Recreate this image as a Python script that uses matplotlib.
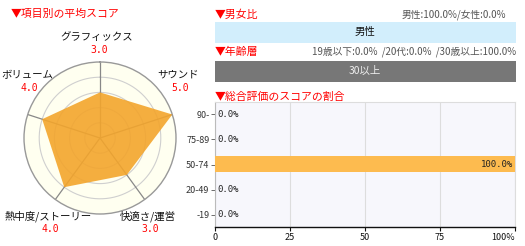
import numpy as np
import matplotlib
matplotlib.use("Agg")
import matplotlib.pyplot as plt
from matplotlib.patches import Rectangle

plt.rcParams["font.family"] = ["Noto Sans CJK JP", "DejaVu Sans"]
plt.rcParams["axes.unicode_minus"] = False

# radar data (clockwise from top)
radar_labels = ["グラフィックス", "サウンド", "快適さ/運営", "熱中度/ストーリー", "ボリューム"]
radar_values = [3.0, 5.0, 3.0, 4.0, 4.0]

# score distribution
score_cats = ["90-", "75-89", "50-74", "20-49", "-19"]
score_pct = [0.0, 0.0, 100.0, 0.0, 0.0]
score_ticks = [0, 25, 50, 75, 100]
score_ticklabels = ["0", "25", "50", "75", "100%"]

gender_text = "男性:100.0%/女性:0.0%"
age_text = "19歳以下:0.0%  /20代:0.0%  /30歳以上:100.0%"

W, H = 525, 246
fig = plt.figure(figsize=(W / 100, H / 100), dpi=100)
fig.patch.set_facecolor("white")


def px(x, y):
    return x / W, 1 - y / H


def box(l, t, r, b):
    return [l / W, 1 - b / H, (r - l) / W, (b - t) / H]


red = "#ff0000"
grey_txt = "#555555"

# ---- radar ----
cx, cy, R = 100, 138, 76
ax = fig.add_axes(box(cx - R, cy - R, cx + R, cy + R), projection="polar")
ax.set_theta_zero_location("N")
ax.set_theta_direction(-1)
ax.set_ylim(0, 5)
ax.set_facecolor("#fffff0")
ax.spines["polar"].set_color("#999999")
ax.spines["polar"].set_linewidth(1.0)
ax.set_xticks([])
ax.set_yticks([])
ax.grid(False)
th = np.linspace(0, 2 * np.pi, 200)
for r in [1, 2, 3, 4]:
    ax.plot(th, np.full_like(th, r), color="#cfcfcf", lw=0.8, zorder=1)
angles = np.deg2rad(np.arange(len(radar_labels)) * 72)
for a in angles:
    ax.plot([a, a], [0, 5], color="#888888", lw=0.9, zorder=2)
va = np.append(angles, angles[0])
vv = np.append(radar_values, radar_values[0])
ax.fill(va, vv, color="#f3a52c", alpha=0.9, lw=0, zorder=3)

lab_pos = [(97, 37), (178, 75), (148, 216), (48, 216), (27, 75)]
for (x, y), lab, v in zip(lab_pos, radar_labels, radar_values):
    fig.text(*px(x, y), lab, ha="center", va="center", fontsize=7.5, color="#111111")
    fig.text(*px(x + 2, y + 13), f"{v:.1f}", ha="center", va="center",
             fontsize=7, color=red, family="DejaVu Sans Mono")

fig.text(*px(11, 14), "▼項目別の平均スコア", ha="left", va="center", fontsize=7.8, color=red)

# ---- gender / age ----
fig.text(*px(215, 15), "▼男女比", ha="left", va="center", fontsize=7.8, color=red)
fig.text(*px(506, 15), gender_text, ha="right", va="center", fontsize=7, color=grey_txt)
fig.patches.append(Rectangle(px(215, 43), 301 / W, 21 / H, transform=fig.transFigure,
                             facecolor="#d2eefc", edgecolor="none"))
fig.text(*px(365, 32), "男性", ha="center", va="center", fontsize=7.5, color="#111111")

fig.text(*px(215, 52), "▼年齢層", ha="left", va="center", fontsize=7.8, color=red)
fig.text(*px(516, 52), age_text, ha="right", va="center", fontsize=7, color=grey_txt)
fig.patches.append(Rectangle(px(215, 82), 301 / W, 21 / H, transform=fig.transFigure,
                             facecolor="#777777", edgecolor="none"))
fig.text(*px(365, 71), "30以上", ha="center", va="center", fontsize=7.5, color="#eeeeee")

# ---- score distribution ----
fig.text(*px(215, 97), "▼総合評価のスコアの割合", ha="left", va="center", fontsize=7.8, color=red)
bx = fig.add_axes(box(215, 102, 515, 227))
bx.set_facecolor("#f7f7fc")
y = np.arange(len(score_cats))
bx.barh(y, score_pct, height=0.64, color="#fdbb4f", zorder=3)
bx.set_ylim(len(score_cats) - 0.5, -0.5)
bx.set_xlim(0, 100)
bx.set_yticks(y)
bx.set_yticklabels(score_cats, fontsize=6.5, color="#333333")
bx.set_xticks(score_ticks)
bx.set_xticklabels(score_ticklabels, fontsize=6.5, color="#111111")
bx.get_xticklabels()[-1].set_horizontalalignment("right")
bx.tick_params(axis="y", length=3, width=0.6, color="#555555", pad=1)
bx.tick_params(axis="x", length=3, width=0.8, color="#111111", pad=1)
bx.xaxis.grid(True, color="#dddddd", lw=0.8, zorder=1)
bx.set_axisbelow(True)
for s in ["top", "right", "left"]:
    bx.spines[s].set_color("#dddddd")
bx.spines["left"].set_color("#bbbbbb")
bx.spines["bottom"].set_color("#111111")
bx.spines["bottom"].set_linewidth(1.0)
for yi, v in zip(y, score_pct):
    if v >= 100:
        bx.text(v - 0.5, yi, f"{v:.1f}%", ha="right", va="center", fontsize=6.5,
                color="#222222", family="DejaVu Sans Mono", zorder=4)
    else:
        bx.text(0.7, yi, f"{v:.1f}%", ha="left", va="center", fontsize=6.5,
                color="#222222", family="DejaVu Sans Mono", zorder=4)

fig.savefig("out.png", dpi=100)
